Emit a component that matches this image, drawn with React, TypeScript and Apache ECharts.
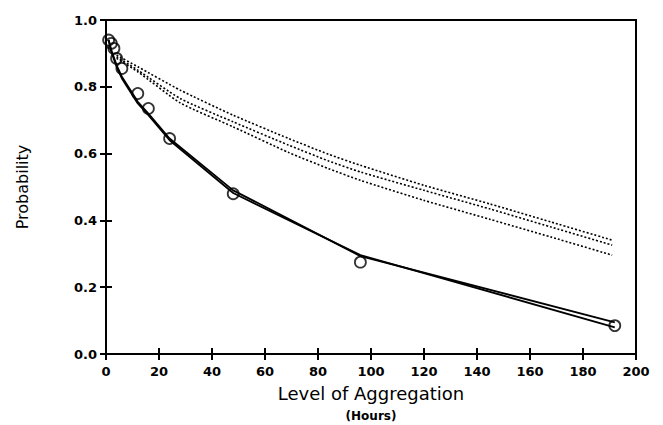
import React, { useEffect, useRef } from "react";
import * as echarts from "echarts";

// Observed probabilities (circles)
const obsX = [1, 2, 3, 4, 6, 12, 16, 24, 48, 96, 192];
const obsY = [0.94, 0.93, 0.915, 0.885, 0.855, 0.78, 0.735, 0.645, 0.48, 0.275, 0.085];

// Two fitted solid curves
const fitX = [1, 2, 4, 6, 12, 16, 24, 48, 96, 192];
const fitA = [0.94, 0.91, 0.865, 0.83, 0.755, 0.72, 0.645, 0.49, 0.293, 0.095];
const fitB = [0.94, 0.905, 0.86, 0.825, 0.75, 0.715, 0.64, 0.482, 0.296, 0.08];

// Three dotted curves
const dotX = [4, 12, 28, 48, 69, 84, 96, 120, 145, 168, 191];
const dotTop = [0.895, 0.86, 0.79, 0.715, 0.645, 0.598, 0.565, 0.505, 0.449, 0.395, 0.341];
const dotMid = [0.89, 0.85, 0.765, 0.695, 0.625, 0.578, 0.545, 0.49, 0.434, 0.38, 0.326];
const dotBot = [0.885, 0.845, 0.752, 0.68, 0.603, 0.555, 0.52, 0.46, 0.403, 0.35, 0.296];

const xTicks = { min: 0, max: 200, interval: 20 };
const yTicks = { min: 0, max: 1, interval: 0.2 };

const zip = (xs: number[], ys: number[]) => xs.map((x, i) => [x, ys[i]]);

export default function App() {
  const ref = useRef<HTMLDivElement>(null);
  useEffect(() => {
    if (!ref.current) return;
    const chart = echarts.init(ref.current, null, { renderer: "svg" });
    const font = "'DejaVu Sans', Verdana, sans-serif";
    const axisCommon = {
      axisLine: { lineStyle: { color: "#000", width: 2 } },
      splitLine: { show: false },
    };
    const dotted = (data: number[][]) => ({
      type: "line",
      data,
      xAxisIndex: 0,
      yAxisIndex: 0,
      symbol: "none",
      smooth: 0.2,
      lineStyle: { color: "#000", width: 1.6, type: [2, 2] },
    });
    const solid = (data: number[][]) => ({
      type: "line",
      data,
      xAxisIndex: 0,
      yAxisIndex: 0,
      symbol: "none",
      lineStyle: { color: "#000", width: 1.8 },
    });
    chart.setOption({
      animation: false,
      backgroundColor: "#fff",
      grid: {
        left: 106,
        right: 27,
        top: 20,
        bottom: 71,
        show: true,
        borderColor: "#000",
        borderWidth: 2,
        backgroundColor: "transparent",
      },
      xAxis: [
        {
          type: "value",
          ...xTicks,
          ...axisCommon,
          name: "Level of Aggregation",
          nameLocation: "middle",
          nameGap: 30,
          nameTextStyle: { fontFamily: font, fontSize: 18, color: "#000" },
          axisTick: { show: true, inside: false, length: 6, lineStyle: { color: "#000", width: 2 } },
          axisLabel: { fontFamily: font, fontWeight: "bold", fontSize: 13, color: "#000", margin: 11 },
        },
        {
          type: "value",
          ...xTicks,
          ...axisCommon,
          position: "bottom",
          axisTick: { show: true, inside: true, length: 6, lineStyle: { color: "#000", width: 2 } },
          axisLabel: { show: false },
        },
      ],
      yAxis: [
        {
          type: "value",
          ...yTicks,
          ...axisCommon,
          name: "Probability",
          nameLocation: "middle",
          nameGap: 76,
          nameTextStyle: { fontFamily: font, fontSize: 16, color: "#000" },
          axisTick: { show: true, inside: false, length: 6, lineStyle: { color: "#000", width: 2 } },
          axisLabel: {
            fontFamily: font,
            fontWeight: "bold",
            fontSize: 13,
            color: "#000",
            margin: 9,
            formatter: (v: number) => v.toFixed(1),
          },
        },
        {
          type: "value",
          ...yTicks,
          ...axisCommon,
          position: "left",
          axisTick: { show: true, inside: true, length: 6, lineStyle: { color: "#000", width: 2 } },
          axisLabel: { show: false },
        },
      ],
      graphic: [
        {
          type: "text",
          x: 371,
          y: 416,
          style: {
            text: "(Hours)",
            fontFamily: font,
            fontWeight: "bold",
            fontSize: 12,
            fill: "#000",
            textAlign: "center",
            textVerticalAlign: "middle",
          },
        },
      ],
      series: [
        dotted(zip(dotX, dotTop)),
        dotted(zip(dotX, dotMid)),
        dotted(zip(dotX, dotBot)),
        solid(zip(fitX, fitA)),
        solid(zip(fitX, fitB)),
        {
          type: "scatter",
          data: zip(obsX, obsY),
          symbol: "circle",
          symbolSize: 11,
          itemStyle: { color: "rgba(0,0,0,0)", borderColor: "#000", borderWidth: 1.8 },
        },
      ],
    });
    return () => chart.dispose();
  }, []);
  return <div ref={ref} style={{ width: 663, height: 425, position: "absolute", left: 0, top: 0 }} />;
}
